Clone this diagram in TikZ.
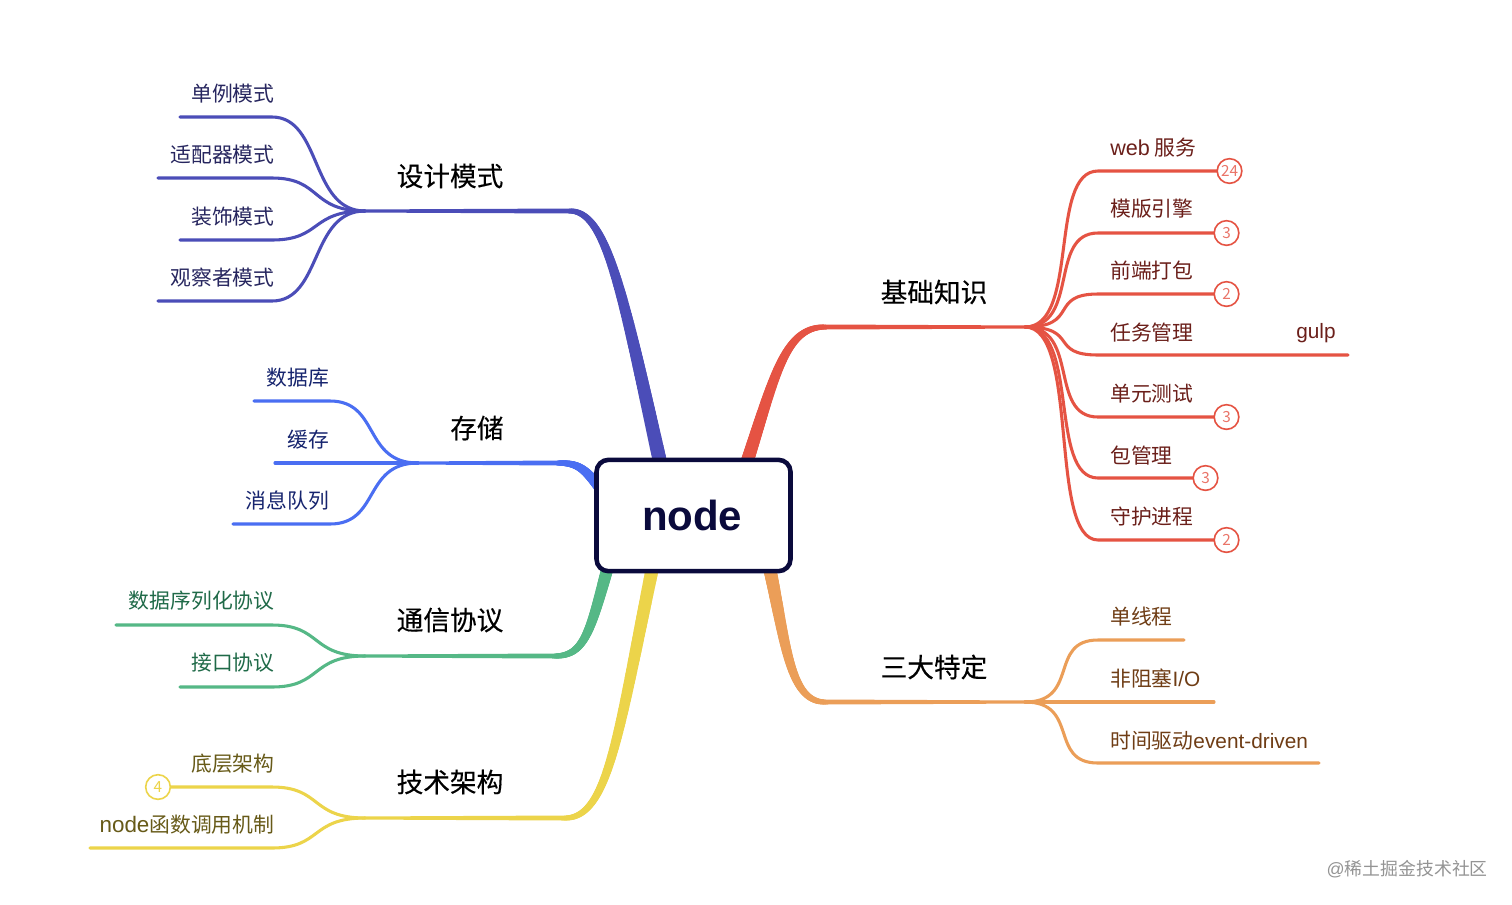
\documentclass[tikz,border=0pt]{standalone}
\usepackage{fontspec}
\usetikzlibrary{calc}
\setmainfont{Noto Sans CJK SC}
\newfontfamily\latin{Liberation Sans}
\newfontfamily\topicfont[FakeBold=0.3]{Noto Sans CJK SC}
\definecolor{cA}{HTML}{4B4DB8}\definecolor{tA}{HTML}{27265F}
\definecolor{cB}{HTML}{4A6EF2}\definecolor{tB}{HTML}{16246E}
\definecolor{cC}{HTML}{55B886}\definecolor{tC}{HTML}{1F6A48}
\definecolor{cD}{HTML}{ECD44A}\definecolor{tD}{HTML}{675A18}
\definecolor{cE}{HTML}{E55343}\definecolor{tE}{HTML}{6B1F1A}
\definecolor{cF}{HTML}{EB9E58}\definecolor{tF}{HTML}{6F3D15}
\definecolor{ink}{HTML}{0A0A3C}
\tikzset{
  leafline/.style={line width=2.3pt,line cap=round},
  lefttext/.style={anchor=east,inner sep=0pt,font=\fontsize{15.6}{18}\selectfont},
  righttext/.style={anchor=west,inner sep=0pt,font=\fontsize{15.6}{18}\selectfont},
  topic/.style={inner sep=0pt,font=\topicfont\fontsize{20}{24}\selectfont,text=black},
  badge/.style={circle,draw,line width=1.2pt,fill=white,minimum size=18.5pt,inner sep=0pt,font=\fontsize{11.5}{13}\selectfont},
}
% colour, four bezier points, start width, end width (px)
\newcommand\taperline[7]{%
  \foreach \i in {0,...,100}{%
    \pgfmathsetmacro\tpos{\i/100}%
    \pgfmathsetmacro\lwv{(#6+(#7-#6)*\tpos)*0.75}%
    \pgfmathtruncatemacro\ip{\i-1}%
    \coordinate (tp\i) at ($($($(#2)!\tpos!(#3)$)!\tpos!($(#3)!\tpos!(#4)$)$)!\tpos!($($(#3)!\tpos!(#4)$)!\tpos!($(#4)!\tpos!(#5)$)$)$);
    \ifnum\i>0
      \draw[#1,line width=\lwv pt,line cap=round] (tp\ip) -- (tp\i);
    \fi
  }%
}
% colour, wide end, narrow end: horizontal wedge from 5px to 3.1px
\newcommand\branchwedge[3]{%
  \fill[#1] ($(#2)+(0,-2.5)$) -- ($(#3)+(0,-1.55)$) -- ($(#3)+(0,1.55)$) -- ($(#2)+(0,2.5)$) -- cycle;
}
% colour, junction, leaf bend coordinate, free end, horizontal handle
\newcommand\leafcurve[5]{%
  \draw[leafline,#1] (#2) .. controls +(#5*55,0) and ($(#3)+(#5*-50,0)$) .. (#3) -- (#4);
}
\begin{document}
\begin{tikzpicture}[x=0.75pt,y=-0.75pt]
\useasboundingbox (0,0) rectangle (1512,904);
\fill[white] (0,0) rectangle (1512,904);

% junctions and branch control points
\coordinate (jA) at (365,211);
\coordinate (jB) at (418,463);
\coordinate (jC) at (365,656);
\coordinate (jD) at (365,818);
\coordinate (jE) at (1025,327);
\coordinate (jF) at (1025,702);

\coordinate (a0) at (660,462); \coordinate (a1) at (622,290); \coordinate (a2) at (606,211); \coordinate (a3) at (570,211);
\coordinate (b0) at (600,488); \coordinate (b1) at (584,468); \coordinate (b2) at (578,463); \coordinate (b3) at (558,463);
\coordinate (c0) at (607,570); \coordinate (c1) at (590,632); \coordinate (c2) at (584,656); \coordinate (c3) at (555,656);
\coordinate (d0) at (652,570); \coordinate (d1) at (618,735); \coordinate (d2) at (608,818); \coordinate (d3) at (565,818);
\coordinate (e0) at (747,462); \coordinate (e1) at (775,375); \coordinate (e2) at (785,327); \coordinate (e3) at (825,327);
\coordinate (f0) at (770,570); \coordinate (f1) at (786,645); \coordinate (f2) at (790,702); \coordinate (f3) at (825,702);

% main branches
\taperline{cA}{a0}{a1}{a2}{a3}{14}{5}
\branchwedge{cA}{a3}{jA}
\taperline{cB}{b0}{b1}{b2}{b3}{11}{5}
\branchwedge{cB}{b3}{jB}
\taperline{cC}{c0}{c1}{c2}{c3}{12}{5}
\branchwedge{cC}{c3}{jC}
\taperline{cD}{d0}{d1}{d2}{d3}{13}{5}
\branchwedge{cD}{d3}{jD}
\taperline{cE}{e0}{e1}{e2}{e3}{13}{5}
\branchwedge{cE}{e3}{jE}
\taperline{cF}{f0}{f1}{f2}{f3}{13}{5}
\branchwedge{cF}{f3}{jF}

% root
\node[draw=ink,line width=3.4pt,rounded corners=9pt,fill=white,minimum width=145.5pt,minimum height=83.5pt,inner sep=0pt,text=ink,font=\latin\bfseries\fontsize{31.5}{36}\selectfont] (root) at (693.5,515.5) {\kern-2pt node};

% topics
\node[topic] (tA) at (450,176) {设计模式};
\node[topic] (tB) at (477,428) {存储};
\node[topic] (tC) at (450,620) {通信协议};
\node[topic] (tD) at (450,782) {技术架构};
\node[topic] (tE) at (934,292) {基础知识};
\node[topic] (tF) at (934,667) {三大特定};

% design patterns
\coordinate (a1b) at (272,117); \coordinate (a1e) at (180,117);
\coordinate (a2b) at (272,178); \coordinate (a2e) at (158,178);
\coordinate (a3b) at (272,240); \coordinate (a3e) at (180,240);
\coordinate (a4b) at (272,301); \coordinate (a4e) at (158,301);
\leafcurve{cA}{jA}{a1b}{a1e}{-1}
\leafcurve{cA}{jA}{a2b}{a2e}{-1}
\leafcurve{cA}{jA}{a3b}{a3e}{-1}
\leafcurve{cA}{jA}{a4b}{a4e}{-1}
\node[lefttext,text=tA] (la1) at (274.8,93.7) {单例模式};
\node[lefttext,text=tA] (la2) at (274.8,155) {适配器模式};
\node[lefttext,text=tA] (la3) at (274.8,216.7) {装饰模式};
\node[lefttext,text=tA] (la4) at (274.8,278) {观察者模式};

% storage
\coordinate (b1b) at (330,401); \coordinate (b1e) at (254,401);
\coordinate (b2e) at (275,463);
\coordinate (b3b) at (330,524); \coordinate (b3e) at (233,524);
\leafcurve{cB}{jB}{b1b}{b1e}{-1}
\draw[leafline,cB] (jB) -- (b2e);
\leafcurve{cB}{jB}{b3b}{b3e}{-1}
\node[lefttext,text=tB] (lb1) at (329.2,378) {数据库};
\node[lefttext,text=tB] (lb2) at (329.2,440) {缓存};
\node[lefttext,text=tB] (lb3) at (329.2,501) {消息队列};

% protocols
\coordinate (c1b) at (272,625); \coordinate (c1e) at (116,625);
\coordinate (c2b) at (272,687); \coordinate (c2e) at (180,687);
\leafcurve{cC}{jC}{c1b}{c1e}{-1}
\leafcurve{cC}{jC}{c2b}{c2e}{-1}
\node[lefttext,text=tC] (lc1) at (274.8,601) {数据序列化协议};
\node[lefttext,text=tC] (lc2) at (274.8,663) {接口协议};

% architecture
\coordinate (d1b) at (272,787);
\coordinate (d2b) at (272,848); \coordinate (d2e) at (90,848);
\coordinate (d1e) at (158,787);
\leafcurve{cD}{jD}{d1b}{d1e}{-1}
\node[badge,draw=cD,text=cD] (bd1) at (d1e) {4};
\leafcurve{cD}{jD}{d2b}{d2e}{-1}
\node[lefttext,text=tD] (ld1) at (274.8,763.5) {底层架构};
\node[lefttext,text=tD] (ld2) at (274.5,825) {{\latin\fontsize{16.8}{18}\selectfont node}函数调用机制};

% basics
\coordinate (e1b) at (1098,171); \coordinate (e1e) at (1229.5,171);
\coordinate (e2b) at (1098,233); \coordinate (e2e) at (1226.5,233);
\coordinate (e3b) at (1098,294); \coordinate (e3e) at (1226.5,294);
\coordinate (e4b) at (1098,355); \coordinate (e4e) at (1348,355);
\coordinate (e5b) at (1098,417); \coordinate (e5e) at (1226.5,417);
\coordinate (e6b) at (1098,478); \coordinate (e6e) at (1205.5,478);
\coordinate (e7b) at (1098,540); \coordinate (e7e) at (1226.5,540);
\leafcurve{cE}{jE}{e1b}{e1e}{1}
\leafcurve{cE}{jE}{e2b}{e2e}{1}
\leafcurve{cE}{jE}{e3b}{e3e}{1}
\leafcurve{cE}{jE}{e4b}{e4e}{1}
\leafcurve{cE}{jE}{e5b}{e5e}{1}
\leafcurve{cE}{jE}{e6b}{e6e}{1}
\leafcurve{cE}{jE}{e7b}{e7e}{1}
\node[badge,draw=cE,text=cE!80] (be1) at (e1e) {24};
\node[badge,draw=cE,text=cE!80] (be2) at (e2e) {3};
\node[badge,draw=cE,text=cE!80] (be3) at (e3e) {2};
\node[badge,draw=cE,text=cE!80] (be5) at (e5e) {3};
\node[badge,draw=cE,text=cE!80] (be6) at (e6e) {3};
\node[badge,draw=cE,text=cE!80] (be7) at (e7e) {2};
\node[righttext,text=tE] (le1) at (1110,148) {{\latin\fontsize{16.2}{18}\selectfont web} 服务};
\node[righttext,text=tE] (le2) at (1110,209) {模版引擎};
\node[righttext,text=tE] (le3) at (1110,271) {前端打包};
\node[righttext,text=tE] (le4) at (1110,333) {任务管理};
\node[righttext,text=tE] (le4g) at (1296,333) {{\latin gulp}};
\node[righttext,text=tE] (le5) at (1110,394) {单元测试};
\node[righttext,text=tE] (le6) at (1110,456) {包管理};
\node[righttext,text=tE] (le7) at (1110,517) {守护进程};

% three features
\coordinate (f1b) at (1098,640); \coordinate (f1e) at (1184,640);
\coordinate (f2e) at (1214,702);
\coordinate (f3b) at (1098,763); \coordinate (f3e) at (1319,763);
\leafcurve{cF}{jF}{f1b}{f1e}{1}
\draw[leafline,cF] (jF) -- (f2e);
\leafcurve{cF}{jF}{f3b}{f3e}{1}
\node[righttext,text=tF] (lf1) at (1110,617) {单线程};
\node[righttext,text=tF] (lf2) at (1110,679) {非阻塞{\latin I/O}};
\node[righttext,text=tF] (lf3) at (1110,740.5) {时间驱动{\latin event-driven}};

% watermark
\node[anchor=east,inner sep=0pt,text=black!42,font=\fontsize{13.4}{16}\selectfont] (wm) at (1488,869.5) {{\latin @}稀土掘金技术社区};
\end{tikzpicture}
\end{document}
